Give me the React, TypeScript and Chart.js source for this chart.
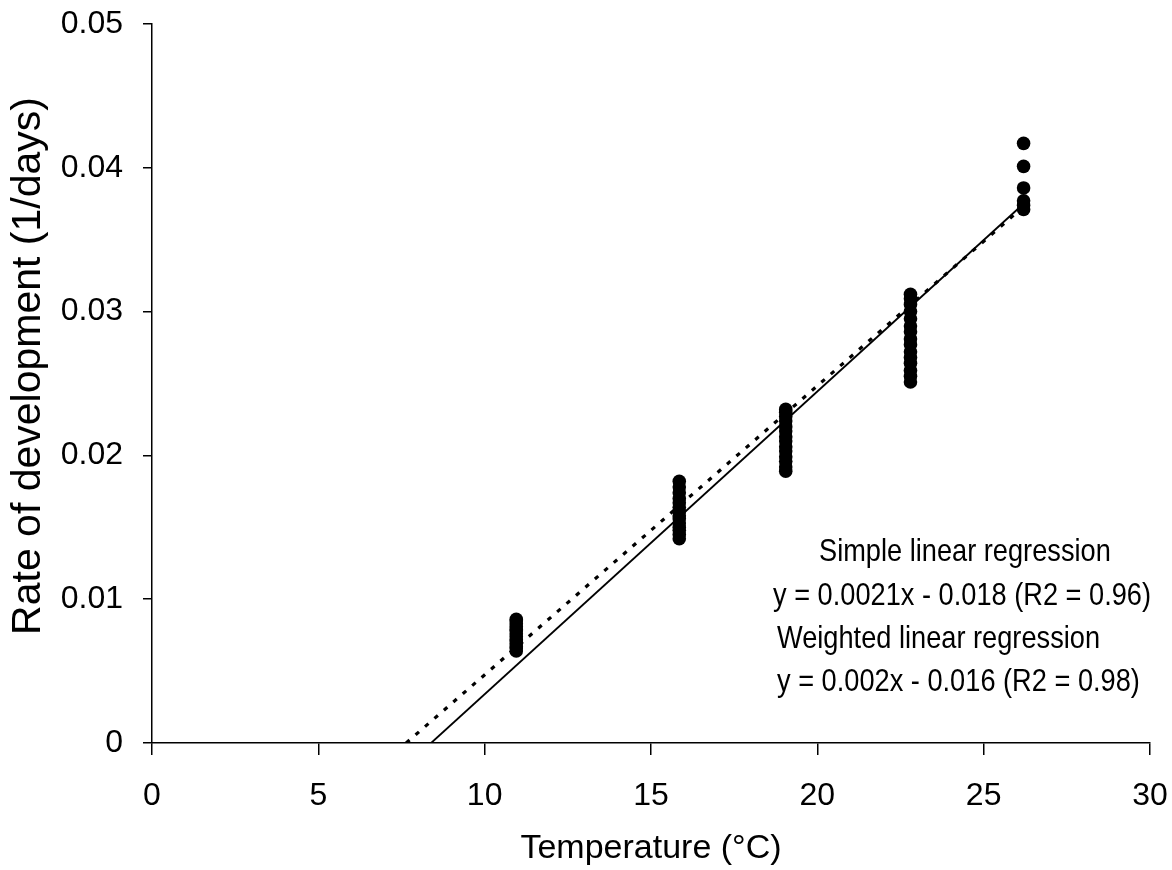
import React, { useEffect, useRef } from "react";
import { Chart, registerables } from "chart.js";

Chart.register(...registerables);

// Temperatures (°C) of the five rearing treatments
const tempA = 10.95;
const tempB = 15.85;
const tempC = 19.05;
const tempD = 22.8;
const tempE = 26.2;

// Observed rates of development (1/days) for each temperature
const ratesA = [0.0064, 0.0066, 0.0067, 0.0069, 0.0071, 0.0072, 0.0074, 0.0076, 0.0078, 0.0079, 0.0081, 0.0083, 0.0085, 0.0086];
const ratesB = [0.0142, 0.0145, 0.0148, 0.015, 0.0153, 0.0156, 0.0158, 0.0161, 0.0164, 0.0167, 0.017, 0.0174, 0.0178, 0.0182];
const ratesC = [0.0189, 0.0192, 0.0196, 0.0199, 0.0203, 0.0206, 0.021, 0.0213, 0.0217, 0.022, 0.0224, 0.0227, 0.023, 0.0232];
const ratesD = [0.0251, 0.0255, 0.0259, 0.0264, 0.0268, 0.0272, 0.0277, 0.0281, 0.0286, 0.029, 0.0295, 0.03, 0.0305, 0.0309, 0.0312];
const ratesE = [0.0371, 0.0374, 0.0377, 0.0386, 0.0401, 0.0417];

// Regression lines (end points)
const simpleFitX = [8.39, 26.2];
const simpleFitY = [0, 0.0375];
const weightedFitX = [7.64, 26.2];
const weightedFitY = [0, 0.0373];

// Axis ticks
const xTicks = [0, 5, 10, 15, 20, 25, 30];
const yTicks = [0, 0.01, 0.02, 0.03, 0.04, 0.05];

const xTitle = "Temperature (°C)";
const yTitle = "Rate of development (1/days)";
const annotationLines = [
  "Simple linear regression",
  "y = 0.0021x - 0.018 (R2 = 0.96)",
  "Weighted linear regression",
  "y = 0.002x - 0.016 (R2 = 0.98)",
];

const FONT = '"Liberation Sans", Arial, sans-serif';

function points(t: number, rates: number[]) {
  return rates.map((r) => ({ x: t, y: r }));
}

const textPlugin = {
  id: "textPlugin",
  afterDraw(chart: any) {
    const ctx = chart.ctx;
    ctx.save();
    ctx.fillStyle = "#000";
    // y axis title
    ctx.save();
    ctx.translate(29, 366);
    ctx.rotate(-Math.PI / 2);
    ctx.font = `41px ${FONT}`;
    ctx.textAlign = "center";
    ctx.textBaseline = "middle";
    ctx.fillText(yTitle, 0, 0);
    ctx.restore();
    // annotation block
    ctx.font = `32px ${FONT}`;
    ctx.textBaseline = "middle";
    ctx.textAlign = "left";
    const pos = [
      { x: 819, y: 552 },
      { x: 773, y: 596 },
      { x: 777, y: 639 },
      { x: 777, y: 682 },
    ];
    const sx = 0.85;
    annotationLines.forEach((line, i) => {
      ctx.save();
      ctx.translate(pos[i].x, pos[i].y);
      ctx.scale(sx, 1);
      ctx.fillText(line, 0, 0);
      ctx.restore();
    });
    ctx.restore();
  },
};

export default function App() {
  const canvasRef = useRef<HTMLCanvasElement | null>(null);

  useEffect(() => {
    if (!canvasRef.current) return;
    const obs = [
      ...points(tempA, ratesA),
      ...points(tempB, ratesB),
      ...points(tempC, ratesC),
      ...points(tempD, ratesD),
      ...points(tempE, ratesE),
    ];
    const chart = new Chart(canvasRef.current, {
      type: "scatter",
      data: {
        datasets: [
          {
            label: "Observed",
            data: obs,
            pointRadius: 6.8,
            pointHoverRadius: 6.8,
            pointBackgroundColor: "#000",
            pointBorderWidth: 0,
            showLine: false,
            order: 3,
          },
          {
            label: "Simple linear regression",
            data: simpleFitX.map((x, i) => ({ x, y: simpleFitY[i] })),
            showLine: true,
            borderColor: "#000",
            borderWidth: 1.8,
            pointRadius: 0,
            order: 2,
          },
          {
            label: "Weighted linear regression",
            data: weightedFitX.map((x, i) => ({ x, y: weightedFitY[i] })),
            showLine: true,
            borderColor: "#000",
            borderWidth: 3.2,
            borderDash: [4.5, 8],
            pointRadius: 0,
            order: 1,
          },
        ],
      },
      options: {
        animation: false,
        responsive: true,
        maintainAspectRatio: false,
        layout: { padding: { top: 24, right: 22, bottom: 0, left: 0 } },
        plugins: {
          legend: { display: false },
          tooltip: { enabled: false },
        },
        scales: {
          x: {
            type: "linear",
            min: 0,
            max: 30,
            afterFit: (s: any) => {
              s.height = 127;
              s.paddingLeft = 0;
              s.paddingRight = 0;
            },
            afterBuildTicks: (s: any) => {
              s.ticks = xTicks.map((v) => ({ value: v }));
            },
            ticks: {
              color: "#000",
              font: { family: FONT, size: 32 },
              padding: 22,
              maxRotation: 0,
              callback: (v: any) => String(v),
            },
            grid: {
              display: true,
              drawOnChartArea: false,
              drawTicks: true,
              tickLength: 12,
              color: "#000",
              lineWidth: 1.5,
            },
            border: { display: true, color: "#000", width: 1.5 },
            title: {
              display: true,
              text: xTitle,
              color: "#000",
              font: { family: FONT, size: 34 },
              padding: { top: 0, bottom: 1 },
            },
          },
          y: {
            type: "linear",
            min: 0,
            max: 0.05,
            afterFit: (s: any) => {
              s.width = 152;
              s.paddingTop = 0;
              s.paddingBottom = 0;
            },
            afterBuildTicks: (s: any) => {
              s.ticks = yTicks.map((v) => ({ value: v }));
            },
            ticks: {
              color: "#000",
              font: { family: FONT, size: 32 },
              padding: 20,
              callback: (v: any) => (v === 0 ? "0" : Number(v).toFixed(2)),
            },
            grid: {
              display: true,
              drawOnChartArea: false,
              drawTicks: true,
              tickLength: 9,
              color: "#000",
              lineWidth: 1.5,
            },
            border: { display: true, color: "#000", width: 1.5 },
          },
        },
      },
      plugins: [textPlugin],
    });
    return () => chart.destroy();
  }, []);

  return (
    <div style={{ position: "fixed", left: 0, top: 0, width: 1172, height: 870, background: "#fff" }}>
      <canvas ref={canvasRef} />
    </div>
  );
}
